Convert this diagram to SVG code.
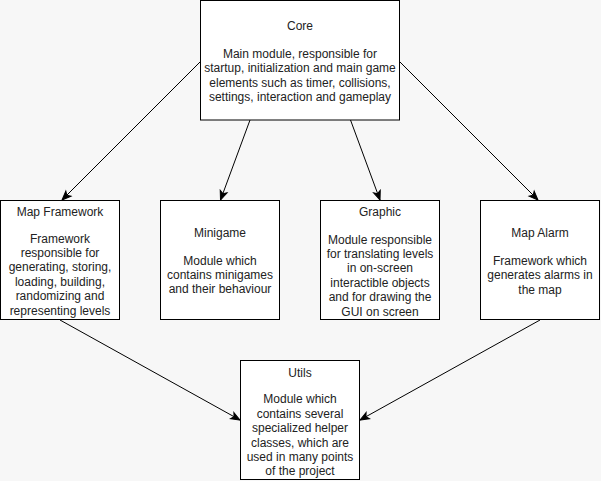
<svg xmlns="http://www.w3.org/2000/svg" width="601" height="481" viewBox="0 0 601 481">
<style>
.box{fill:#ffffff;stroke:#000000;stroke-width:1}
.t{font-family:"Liberation Sans",Arial,Helvetica,sans-serif;font-size:12px;fill:#222222;text-anchor:middle}
.edge{fill:none;stroke:#000000;stroke-width:1;marker-end:url(#arr)}
</style>
<defs>
<marker id="arr" markerUnits="userSpaceOnUse" markerWidth="12" markerHeight="10" viewBox="-10 -5 12 10" refX="0" refY="0" orient="auto">
<path d="M-9,-3.6 L0,0 L-9,3.6 L-6.8,0 Z" fill="#000000" stroke="#000000" stroke-width="1"/>
</marker>
</defs>
<rect x="0" y="0" width="601" height="481" fill="#f7f7f7"/>
<g id="connectors">
<line class="edge" x1="200" y1="62" x2="62" y2="200"/>
<line class="edge" x1="250" y1="120" x2="220.5" y2="200"/>
<line class="edge" x1="350.5" y1="120" x2="380" y2="200"/>
<line class="edge" x1="400" y1="62" x2="538" y2="200"/>
<line class="edge" x1="60" y1="320" x2="240" y2="420"/>
<line class="edge" x1="540" y1="320" x2="360" y2="420"/>
</g>
<g id="core">
<rect class="box" x="200.5" y="0.5" width="199" height="119.5"/>
<text class="t" x="300" y="30">Core</text>
<text class="t" x="300" y="58">Main module, responsible for</text>
<text class="t" x="300" y="72.4">startup, initialization and main game</text>
<text class="t" x="300" y="86.8">elements such as timer, collisions,</text>
<text class="t" x="300" y="101.2">settings, interaction and gameplay</text>
</g>
<g id="map-framework">
<rect class="box" x="0.5" y="200.5" width="119" height="119"/>
<text class="t" x="60" y="216">Map Framework</text>
<text class="t" x="60" y="242.6">Framework</text>
<text class="t" x="60" y="257">responsible for</text>
<text class="t" x="60" y="271.4">generating, storing,</text>
<text class="t" x="60" y="285.8">loading, building,</text>
<text class="t" x="60" y="300.2">randomizing and</text>
<text class="t" x="60" y="314.6">representing levels</text>
</g>
<g id="minigame">
<rect class="box" x="160.5" y="200.5" width="119" height="119"/>
<text class="t" x="220" y="237">Minigame</text>
<text class="t" x="220" y="264.6">Module which</text>
<text class="t" x="220" y="279">contains minigames</text>
<text class="t" x="220" y="293.4">and their behaviour</text>
</g>
<g id="graphic">
<rect class="box" x="320.5" y="200.5" width="119" height="119"/>
<text class="t" x="380" y="216">Graphic</text>
<text class="t" x="380" y="243.6">Module responsible</text>
<text class="t" x="380" y="258">for translating levels</text>
<text class="t" x="380" y="272.4">in on-screen</text>
<text class="t" x="380" y="286.8">interactible objects</text>
<text class="t" x="380" y="301.2">and for drawing the</text>
<text class="t" x="380" y="315.6">GUI on screen</text>
</g>
<g id="map-alarm">
<rect class="box" x="480.5" y="200.5" width="119" height="119"/>
<text class="t" x="540" y="237">Map Alarm</text>
<text class="t" x="540" y="265">Framework which</text>
<text class="t" x="540" y="279.4">generates alarms in</text>
<text class="t" x="540" y="293.8">the map</text>
</g>
<g id="utils">
<rect class="box" x="240.5" y="360.5" width="119" height="119"/>
<text class="t" x="300" y="376.5">Utils</text>
<text class="t" x="300" y="403.3">Module which</text>
<text class="t" x="300" y="417.7">contains several</text>
<text class="t" x="300" y="432.1">specialized helper</text>
<text class="t" x="300" y="446.5">classes, which are</text>
<text class="t" x="300" y="460.9">used in many points</text>
<text class="t" x="300" y="475.3">of the project</text>
</g>
</svg>
